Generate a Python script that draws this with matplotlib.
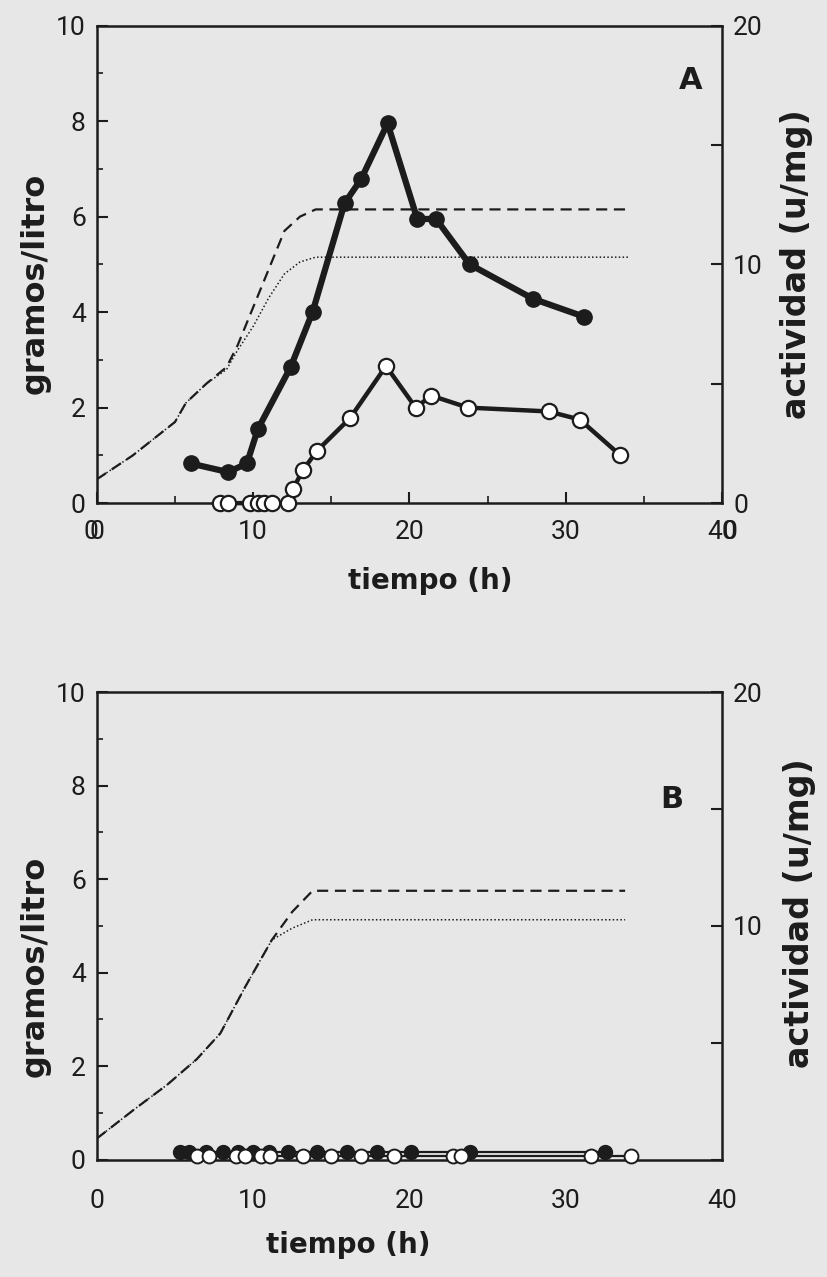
import matplotlib
matplotlib.use('Agg')
import matplotlib.pyplot as plt
from matplotlib.ticker import MultipleLocator, FixedLocator

# ---------------- Panel A data ----------------
a_filled_x = [6.0, 8.4, 9.6, 10.3, 12.4, 13.8, 15.85, 16.9, 18.6, 20.5, 21.7, 23.85, 27.9, 31.2]
a_filled_y = [0.83, 0.65, 0.83, 1.55, 2.85, 4.0, 6.28, 6.78, 7.95, 5.95, 5.95, 5.0, 4.28, 3.9]
a_open_x = [7.9, 8.4, 9.8, 10.3, 10.7, 11.2, 12.2, 12.55, 13.2, 14.1, 16.2, 18.5, 20.4, 21.4, 23.75, 28.9, 30.9, 33.5]
a_open_y = [0, 0, 0, 0, 0, 0, 0, 0.3, 0.7, 1.1, 1.78, 2.87, 2.0, 2.25, 2.0, 1.92, 1.75, 1.0]
a_dash_x = [0, 2.3, 5.0, 5.7, 7.0, 8.3, 9.0, 10.0, 11.0, 12.0, 13.0, 14.0, 34.0]
a_dash_y = [0.5, 1.0, 1.7, 2.1, 2.5, 2.85, 3.3, 4.1, 4.9, 5.7, 6.0, 6.15, 6.15]
a_dot_x = [0, 2.3, 5.0, 5.7, 7.0, 8.3, 9.0, 10.0, 11.0, 12.0, 13.0, 14.0, 34.0]
a_dot_y = [0.5, 1.0, 1.7, 2.1, 2.5, 2.8, 3.2, 3.7, 4.3, 4.8, 5.05, 5.15, 5.15]

# ---------------- Panel B data ----------------
b_filled_x = [5.3, 5.9, 7.0, 8.1, 9.0, 10.0, 11.0, 12.2, 14.1, 16.0, 17.9, 20.1, 23.9, 32.5]
b_filled_y = [0.16] * len(b_filled_x)
b_open_x = [6.4, 7.2, 8.9, 9.5, 10.5, 11.1, 13.2, 15.0, 16.9, 19.0, 22.8, 23.3, 31.6, 34.2]
b_open_y = [0.08] * len(b_open_x)
b_dash_x = [0, 2.5, 4.5, 6.4, 7.9, 9.5, 11.2, 12.5, 13.8, 33.8]
b_dash_y = [0.45, 1.1, 1.6, 2.15, 2.7, 3.7, 4.7, 5.3, 5.75, 5.75]
b_dot_x = [0, 2.5, 4.5, 6.4, 7.9, 9.5, 11.2, 12.5, 13.8, 33.8]
b_dot_y = [0.45, 1.1, 1.6, 2.15, 2.7, 3.7, 4.7, 4.95, 5.13, 5.13]

x_ticks = [0, 10, 20, 30, 40]
left_ticks = [0, 2, 4, 6, 8, 10]
right_ticks = [0, 10, 20]

BG = '#e7e7e7'
INK = '#1c1c1c'
TICK_FAMILY = ['Roboto', 'DejaVu Sans']
TICK_SIZE = 19
LABEL_FONT = dict(family=['DejaVu Sans'], weight='bold')

fig = plt.figure(figsize=(8.28, 12.77), dpi=100, facecolor=BG)


def style_axes(ax, axr, right_labels, xpad):
    ax.set_facecolor(BG)
    ax.set_xlim(0, 40)
    ax.set_ylim(0, 10)
    axr.set_ylim(0, 20)
    for sp in ax.spines.values():
        sp.set_color(INK)
        sp.set_linewidth(1.8)
    for sp in axr.spines.values():
        sp.set_visible(False)
    ax.set_xticks(x_ticks)
    ax.set_yticks(left_ticks)
    ax.yaxis.set_minor_locator(MultipleLocator(1))
    axr.set_yticks(right_ticks)
    axr.set_yticklabels(right_labels)
    axr.yaxis.set_minor_locator(MultipleLocator(5))
    ax.tick_params(axis='both', which='major', direction='in', length=8, width=1.5,
                   color=INK, labelcolor=INK, pad=8)
    ax.tick_params(axis='x', which='major', pad=xpad)
    ax.tick_params(axis='y', which='minor', direction='in', length=4, width=1.2, color=INK)
    axr.tick_params(axis='y', which='major', direction='in', length=8, width=1.5,
                    color=INK, labelcolor=INK, pad=8)
    axr.tick_params(axis='y', which='minor', direction='in', length=8, width=1.5, color=INK)
    for lab in ax.get_xticklabels() + ax.get_yticklabels() + axr.get_yticklabels():
        lab.set_fontfamily(TICK_FAMILY)
        lab.set_fontweight('normal')
        lab.set_fontsize(TICK_SIZE)


# ---------------- Panel A ----------------
axA = fig.add_axes([0.117, 0.606, 0.755, 0.374])
axAr = axA.twinx()
axA.plot(a_dash_x, a_dash_y, color=INK, lw=1.6, ls=(0, (5, 3)), zorder=2)
axA.plot(a_dot_x, a_dot_y, color=INK, lw=1.1, ls=(0, (1, 1.5)), zorder=2)
axA.plot(a_filled_x, a_filled_y, color=INK, lw=4.5, marker='o', ms=11,
         mfc=INK, mec=INK, zorder=4, clip_on=False)
axA.plot(a_open_x, a_open_y, color=INK, lw=3.2, marker='o', ms=11,
         mfc='white', mec=INK, mew=1.6, zorder=5, clip_on=False)
axA.xaxis.set_minor_locator(FixedLocator([5, 15, 25, 35]))
axA.tick_params(axis='x', which='minor', direction='in', length=5, width=1.2, color=INK)
style_axes(axA, axAr, ['0', '10', '20'], 12)
axA.text(38.0, 8.85, 'A', fontsize=22, fontweight='bold', color=INK,
         family='DejaVu Sans', ha='center', va='center')
# doubled zero glyphs printed under the x axis ends
axA.annotate('0', xy=(0, 0), xytext=(-4, -12), textcoords='offset points',
             ha='center', va='top', fontsize=TICK_SIZE, color=INK,
             family=TICK_FAMILY, annotation_clip=False)
axA.annotate('0', xy=(40, 0), xytext=(6, -12), textcoords='offset points',
             ha='center', va='top', fontsize=TICK_SIZE, color=INK,
             family=TICK_FAMILY, annotation_clip=False)
fig.text(0.043, 0.778, 'gramos/litro', rotation=90, ha='center', va='center',
         color=INK, size=23, **LABEL_FONT)
fig.text(0.962, 0.793, 'actividad (u/mg)', rotation=90, ha='center', va='center',
         color=INK, size=24, **LABEL_FONT)
fig.text(0.52, 0.545, 'tiempo (h)', ha='center', va='center', color=INK,
         size=20, **LABEL_FONT)

# ---------------- Panel B ----------------
axB = fig.add_axes([0.117, 0.092, 0.755, 0.366])
axBr = axB.twinx()
axB.plot(b_dash_x, b_dash_y, color=INK, lw=1.6, ls=(0, (5, 3)), zorder=2)
axB.plot(b_dot_x, b_dot_y, color=INK, lw=1.1, ls=(0, (1, 1.5)), zorder=2)
axB.plot(b_filled_x, b_filled_y, color=INK, lw=1.6, marker='o', ms=10,
         mfc=INK, mec=INK, zorder=4, clip_on=False)
axB.plot(b_open_x, b_open_y, color=INK, lw=1.6, marker='o', ms=10,
         mfc='white', mec=INK, mew=1.4, zorder=5, clip_on=False)
style_axes(axB, axBr, ['', '10', '20'], 21)
axB.tick_params(axis='x', which='major', length=0)
axB.text(36.8, 7.7, 'B', fontsize=22, fontweight='bold', color=INK,
         family='DejaVu Sans', ha='center', va='center')
fig.text(0.043, 0.243, 'gramos/litro', rotation=90, ha='center', va='center',
         color=INK, size=23, **LABEL_FONT)
fig.text(0.965, 0.285, 'actividad (u/mg)', rotation=90, ha='center', va='center',
         color=INK, size=24, **LABEL_FONT)
fig.text(0.42, 0.025, 'tiempo (h)', ha='center', va='center', color=INK,
         size=20, **LABEL_FONT)

fig.savefig('out.png', dpi=100, facecolor=BG)
